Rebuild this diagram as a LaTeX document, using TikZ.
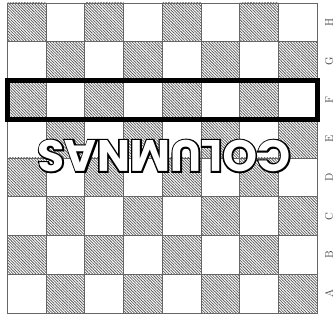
\documentclass[tikz,border=0pt]{standalone}
\usepackage{fontspec}
\usetikzlibrary{patterns.meta}
\newfontfamily\colfont{Poppins Bold}
\newfontfamily\coledge{Poppins Bold}[FakeBold=7]
\newcommand{\outlined}[1]{\rlap{\coledge\color{black}#1}{\colfont\color{white}#1}}
\def\sq{38.75}
\tikzset{
 cell/.style={draw=black!60,line width=0.8pt},
 hatched/.style={cell,pattern={Lines[angle=-45,distance=2pt,line width=0.75pt]},pattern color=black!65},
 rowlabel/.style={rotate=90,text=black!75,font=\fontsize{11}{11}\selectfont,inner sep=0pt},
 selbox/.style={draw=black,line width=5pt}
}

\begin{document}
\begin{tikzpicture}[x=1pt,y=1pt]
 \useasboundingbox (0,0) rectangle (334,320);
 % board
 \foreach \c in {0,...,7}
  \foreach \r in {0,...,7}{
   \pgfmathtruncatemacro\k{mod(\c+\r,2)}
   \ifnum\k=1
    \draw[hatched] (7.3+\sq*\c,7+\sq*\r) rectangle ++(\sq,\sq);
   \else
    \draw[cell] (7.3+\sq*\c,7+\sq*\r) rectangle ++(\sq,\sq);
   \fi
  }
 % row names
 \foreach \l [count=\i from 0] in {A,B,C,D,E,F,G,H}
  \node[rowlabel] (row\l) at (329,7+\sq*\i+\sq/2) {\l};
 % selected row
 \draw[selbox] (7.3,7+5*\sq) rectangle ++(8*\sq,\sq);
 \node[rotate=180,inner sep=0pt] (title) at (164,164)
  {\fontsize{44}{44}\selectfont\outlined{COLUMNAS}};
\end{tikzpicture}
\end{document}
